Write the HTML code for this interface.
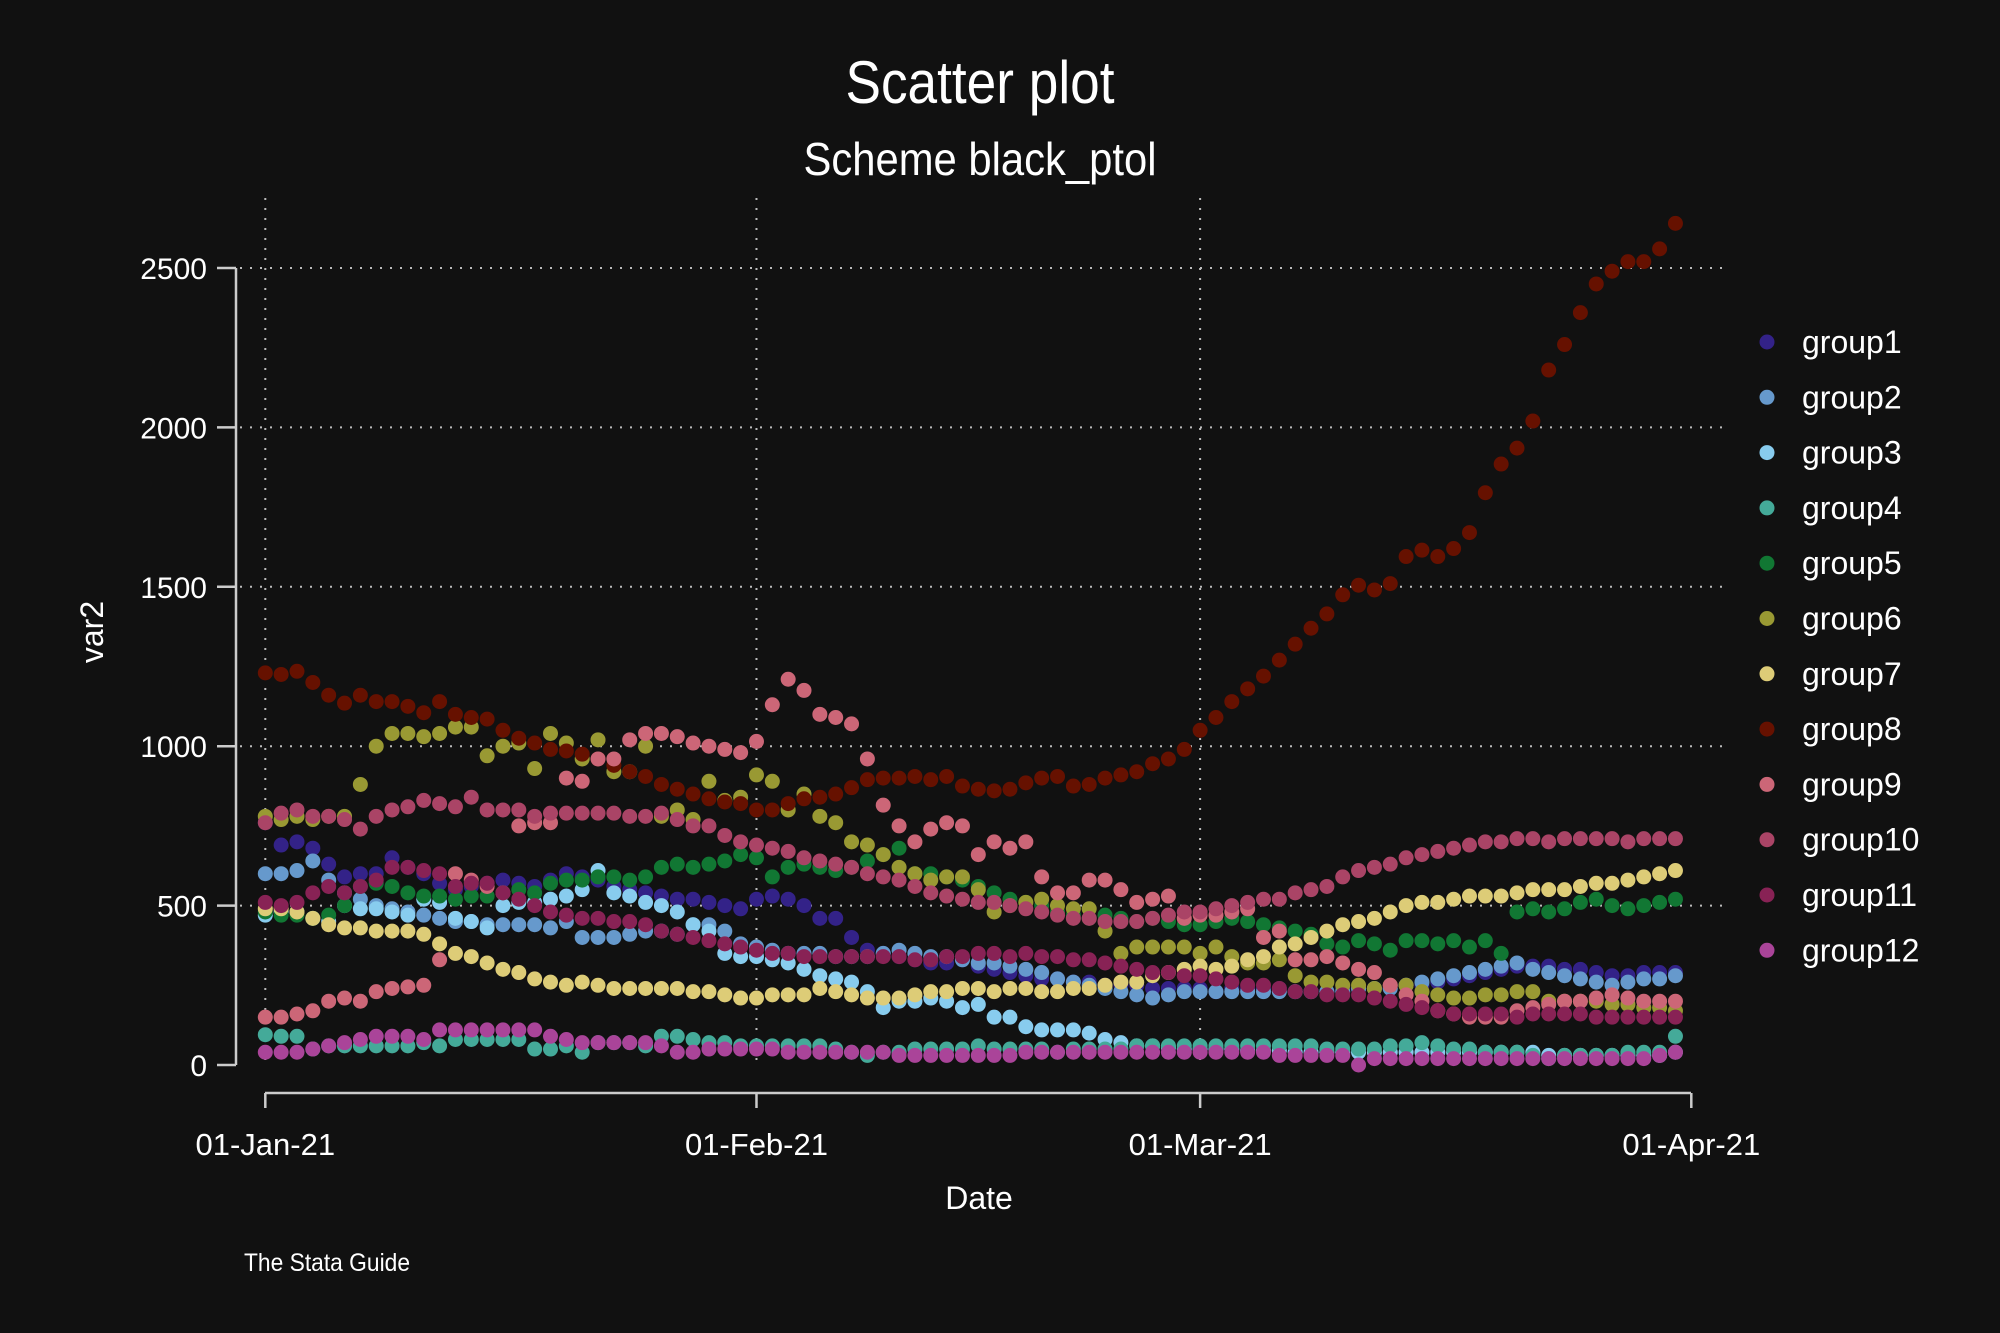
<!DOCTYPE html>
<html><head><meta charset="utf-8"><style>
html,body{margin:0;padding:0;background:#111111;}
svg{display:block;font-family:"Liberation Sans",sans-serif;}
</style></head><body>
<svg id="chart" width="2000" height="1333" viewBox="0 0 2000 1333">
<rect width="2000" height="1333" fill="#111111"/>
<text x="980" y="103" fill="#ffffff" font-size="60" text-anchor="middle" textLength="269" lengthAdjust="spacingAndGlyphs">Scatter plot</text>
<text x="980" y="175" fill="#ffffff" font-size="46" text-anchor="middle" textLength="353" lengthAdjust="spacingAndGlyphs">Scheme black_ptol</text>
<g id="grid"></g>
<g id="axes"></g>
<g id="marks"></g>
<g id="legend"></g>
<text x="115" y="644" fill="#ffffff" font-size="32" text-anchor="middle" transform="rotate(-90 103 644)">var2</text>
<text x="979" y="1209" fill="#ffffff" font-size="32" text-anchor="middle">Date</text>
<text x="244" y="1271" fill="#ffffff" font-size="25" textLength="166" lengthAdjust="spacingAndGlyphs">The Stata Guide</text>
</svg>
<script>
const groupNames=["group1","group2","group3","group4","group5","group6","group7","group8","group9","group10","group11","group12"];
const groupColors=["#332288","#6699CC","#88CCEE","#44AA99","#117733","#999933","#DDCC77","#661100","#CC6677","#AA4466","#882255","#AA4499"];
const yTicks=[0,500,1000,1500,2000,2500];
const xTickDays=[0,31,59,90];
const xTickLabels=["01-Jan-21","01-Feb-21","01-Mar-21","01-Apr-21"];
const g1=[760,690,700,680,630,590,600,600,650,620,600,570,550,560,570,580,570,560,580,600,590,580,560,550,540,530,520,520,510,500,490,520,530,520,500,460,460,400,360,350,340,330,320,320,330,310,300,290,280,270,270,260,260,250,250,250,240,240,240,240,230,240,240,240,240,230,230,230,240,240,240,240,250,250,260,270,280,290,300,310,310,310,300,300,290,280,280,290,290,290];
const g2=[600,600,610,640,580,540,520,500,490,480,470,460,450,450,440,440,440,440,430,450,400,400,400,410,420,420,410,440,440,420,380,370,360,350,350,350,340,340,340,350,360,350,340,340,330,320,320,310,300,290,270,260,250,240,230,220,210,220,230,230,230,230,230,230,230,230,230,230,230,240,240,240,250,260,270,280,290,300,310,320,300,290,280,270,260,250,260,270,270,280];
const g3=[470,480,480,460,450,500,490,490,480,470,520,510,460,450,430,500,510,510,520,530,550,610,540,530,510,500,480,440,420,350,340,340,330,320,300,280,270,260,230,180,200,200,210,200,180,190,150,150,120,110,110,110,100,80,70,60,60,55,50,50,50,50,45,45,45,40,40,40,40,40,40,40,40,40,40,40,40,40,40,40,40,30,30,30,30,30,30,30,30,40];
const g4=[95,90,90,50,60,60,60,60,60,60,70,60,80,80,80,80,80,50,50,60,40,70,70,70,60,90,90,80,70,70,60,60,60,60,60,60,50,40,30,40,40,50,50,50,50,60,50,50,50,50,40,50,50,50,50,60,60,60,60,60,60,60,60,60,60,60,60,50,50,50,50,60,60,70,60,50,50,40,40,40,30,20,30,30,30,30,40,40,40,90];
const g5=[480,470,470,460,470,500,560,570,560,540,530,530,520,530,530,540,550,540,570,580,580,590,590,580,590,620,630,620,630,640,660,650,590,620,630,620,610,620,640,660,680,600,600,590,580,560,540,520,510,500,480,470,460,470,460,450,460,450,440,440,450,460,450,440,430,420,410,380,370,390,380,360,390,390,380,390,370,390,350,480,490,480,490,510,520,500,490,500,510,520];
const g6=[780,770,780,770,780,780,880,1000,1040,1040,1030,1040,1060,1060,970,1000,1010,930,1040,1010,960,1020,920,920,1000,780,800,770,890,830,840,910,890,800,850,780,760,700,690,660,620,600,580,590,590,550,480,500,510,520,500,490,490,420,350,370,370,370,370,350,370,340,320,320,330,280,260,260,250,250,240,250,250,230,220,210,210,220,220,230,230,200,200,200,200,190,190,180,180,170];
const g7=[490,490,480,460,440,430,430,420,420,420,410,380,350,340,320,300,290,270,260,250,260,250,240,240,240,240,240,230,230,220,210,210,220,220,220,240,230,220,210,210,210,220,230,230,240,240,230,240,240,230,230,240,240,250,260,260,280,290,300,310,300,310,330,340,370,380,400,420,440,450,460,480,500,510,510,520,530,530,530,540,550,550,550,560,570,570,580,590,600,610];
const g8=[1230,1225,1235,1200,1160,1135,1160,1140,1140,1125,1105,1140,1100,1090,1085,1050,1025,1010,990,985,975,960,940,920,905,880,865,850,835,825,820,800,800,820,835,840,850,870,895,900,900,905,895,905,875,865,860,865,885,900,905,875,880,900,910,920,945,960,990,1050,1090,1140,1180,1220,1270,1320,1370,1415,1475,1505,1490,1510,1595,1615,1595,1620,1670,1795,1885,1935,2020,2180,2260,2360,2450,2490,2520,2520,2560,2640];
const g9=[150,150,160,170,200,210,200,230,240,245,250,330,600,580,560,540,750,760,760,900,890,960,960,1020,1040,1040,1030,1010,1000,990,980,1015,1130,1210,1175,1100,1090,1070,960,815,750,700,740,760,750,660,700,680,700,590,540,540,580,580,550,510,520,530,460,470,470,480,490,400,420,330,330,340,320,300,290,250,220,200,170,160,150,150,150,170,180,190,200,200,210,220,210,200,200,200];
const g10=[760,790,800,780,780,770,740,780,800,810,830,820,810,840,800,800,800,780,790,790,790,790,790,780,780,790,770,750,750,720,700,690,680,670,650,640,630,620,600,590,580,560,540,530,520,510,510,500,490,480,470,460,460,450,450,450,460,470,480,480,490,500,510,520,520,540,550,560,590,610,620,630,650,660,670,680,690,700,700,710,710,700,710,710,710,710,700,710,710,710];
const g11=[510,500,510,540,560,540,560,580,620,620,610,600,560,570,570,540,520,500,480,470,460,460,450,450,440,420,410,400,390,380,370,360,350,350,340,340,340,340,340,340,340,330,330,340,340,350,350,340,350,340,340,330,330,320,310,300,290,290,280,280,270,260,250,250,240,230,230,220,220,220,210,200,190,180,170,160,160,160,160,150,160,160,160,160,150,150,150,150,150,150];
const g12=[40,40,40,50,60,70,80,90,90,90,80,110,110,110,110,110,110,110,90,80,70,70,70,70,70,60,40,40,50,50,50,50,50,40,40,40,40,40,40,40,30,30,30,30,30,30,30,30,40,40,40,40,40,40,40,40,40,40,40,40,40,40,40,40,30,30,30,30,30,0,20,20,20,20,20,20,20,20,20,20,20,20,20,20,20,20,20,20,30,40];
const series=[g1,g2,g3,g4,g5,g6,g7,g8,g9,g10,g11,g12];

const NS="http://www.w3.org/2000/svg";
const X0=265.3,X90=1691.3,Y0=1065,Y2500=268;
function xScale(d){return X0+(X90-X0)*d/90;}
function yScale(v){return Y0+(Y2500-Y0)*v/2500;}
function mk(tag,attrs,parent){const e=document.createElementNS(NS,tag);for(const k in attrs)e.setAttribute(k,attrs[k]);parent.appendChild(e);return e;}
const grid=document.getElementById('grid'),axes=document.getElementById('axes'),marks=document.getElementById('marks'),legend=document.getElementById('legend');
yTicks.forEach(t=>{
  if(t>0){const gl=mk('line',{x1:240,x2:1722,y1:yScale(t),y2:yScale(t),stroke:'#bbbbbb','stroke-width':2,'stroke-dasharray':'2 8'},grid);
  
  }
  const tk=mk('line',{x1:217,x2:236,y1:yScale(t),y2:yScale(t),stroke:'#cccccc','stroke-width':2.5},axes);
  
  
  const lb=mk('text',{x:207,y:yScale(t)+11,fill:'#ffffff','font-size':30,'text-anchor':'end'},axes);
  lb.textContent=t;
  
  
});
xTickDays.forEach((d,i)=>{
  if(i<3){const gl=mk('line',{x1:xScale(d),x2:xScale(d),y1:198,y2:1065,stroke:'#bbbbbb','stroke-width':2,'stroke-dasharray':'2 8'},grid);
  
  }
  const tk=mk('line',{x1:xScale(d),x2:xScale(d),y1:1093,y2:1108,stroke:'#cccccc','stroke-width':2.5},axes);
  
  
  const lb=mk('text',{x:xScale(d),y:1155,fill:'#ffffff','font-size':31,'text-anchor':'middle'},axes);
  lb.textContent=xTickLabels[i];
  
  
});
const ya=mk('line',{x1:236,x2:236,y1:268,y2:1065,stroke:'#cccccc','stroke-width':2.5},axes);


const xa=mk('line',{x1:265,x2:1691,y1:1093,y2:1093,stroke:'#cccccc','stroke-width':2.5},axes);


series.forEach((s,gi)=>{
  s.forEach((v,d)=>{
    const c=mk('circle',{cx:xScale(d),cy:yScale(v),r:7.5,fill:groupColors[gi]},marks);
    
    
  });
});
groupNames.forEach((n,i)=>{
  const y=342+i*55.3;
  const c=mk('circle',{cx:1767,cy:y,r:7.5,fill:groupColors[i]},legend);
  
  
  const t=mk('text',{x:1802,y:y+11,fill:'#ffffff','font-size':32},legend);
  t.textContent=n;
  
  
});
</script>
</body></html>
